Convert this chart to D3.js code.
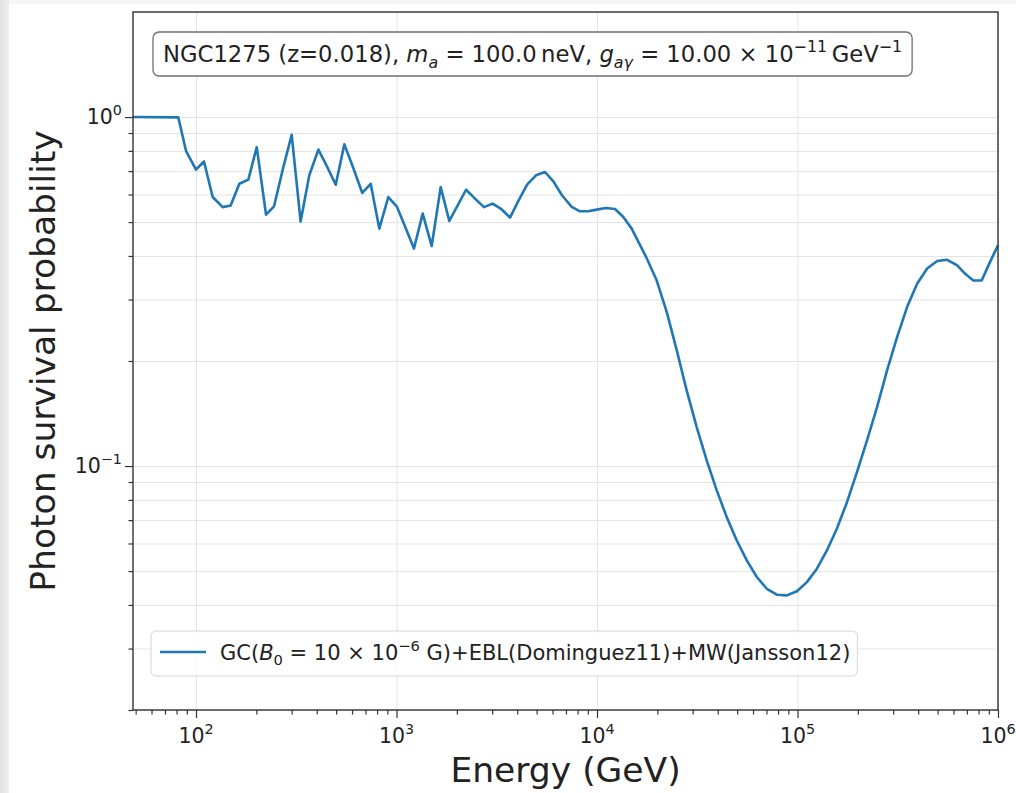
<!DOCTYPE html>
<html>
<head>
<meta charset="utf-8">
<script src="https://cdn.jsdelivr.net/npm/d3@7"></script>
<style>
  body { margin: 0; background: #ffffff; }
  svg { display: block; font-family: "DejaVu Sans", sans-serif; }
</style>
</head>
<body>
<svg id="chart" width="1016" height="793"></svg>
<script>
// Photon survival probability vs. energy (NGC1275, ALP + EBL + MW model)
const energyGeV = [
  48.5, 81.6, 89.2, 100, 109.6, 121.1, 135.9, 148.9, 164.5, 182.4,
  200.9, 223.5, 245, 271.7, 300, 332.5, 367.3, 407.6, 450, 497.5,
  549.3, 609.5, 675, 743.5, 820.8, 910, 1002, 1107, 1222, 1351,
  1498, 1661, 1834, 2019, 2222, 2463, 2730, 3017, 3320, 3682,
  4066, 4490, 4963, 5503, 6057, 6687, 7477, 8227, 9054, 9963,
  11087, 12297, 13526, 14893, 16253, 17698, 19860, 22280, 25000, 28000,
  31420, 35250, 39550, 44370, 49780, 55850, 62660, 70300, 78880, 88500,
  99300, 111400, 125000, 140200, 157300, 176500, 198000, 222200, 249300, 279700,
  313800, 352000, 395000, 443200, 497300, 557900, 626000, 684000, 753000, 829000,
  912000, 1000000
];
const survivalProb = [
  1.0, 0.998, 0.799, 0.707, 0.746, 0.590, 0.552, 0.558, 0.644, 0.662,
  0.820, 0.525, 0.555, 0.713, 0.890, 0.502, 0.681, 0.807, 0.722, 0.640,
  0.835, 0.713, 0.606, 0.644, 0.479, 0.590, 0.555, 0.483, 0.420, 0.529,
  0.427, 0.630, 0.504, 0.558, 0.619, 0.584, 0.552, 0.565, 0.546, 0.515,
  0.577, 0.641, 0.681, 0.696, 0.654, 0.597, 0.553, 0.537, 0.537, 0.543,
  0.549, 0.545, 0.517, 0.479, 0.434, 0.394, 0.340, 0.276, 0.2145, 0.1647,
  0.1293, 0.1038, 0.0852, 0.0714, 0.0612, 0.0537, 0.0481, 0.0445, 0.0428, 0.0426,
  0.0438, 0.0465, 0.0508, 0.0573, 0.0662, 0.0788, 0.0961, 0.1185, 0.1476, 0.188,
  0.234, 0.2855, 0.333, 0.368, 0.387, 0.390, 0.376, 0.356, 0.340, 0.340,
  0.384, 0.429
];

const xMajorExponents = [2, 3, 4, 5, 6];
const yMajorExponents = [-1, 0];
const xDomain = [48.5, 1e6];
const yDomain = [0.02, 2];

// Rich-text pieces: s = style ("n" normal, "i" italic, "sub", "isub", "sup")
const titlePieces = [
  { t: "NGC1275 (z=0.018), ", s: "n" },
  { t: "m", s: "i" }, { t: "a", s: "isub" },
  { t: " = 100.0\u2009neV, ", s: "n" },
  { t: "g", s: "i" }, { t: "a\u03b3", s: "isub" },
  { t: " = 10.00 \u00d7 10", s: "n" }, { t: "\u221211", s: "sup" },
  { t: "\u2009GeV", s: "n" }, { t: "\u22121", s: "sup" }
];
const legendPieces = [
  { t: "GC(", s: "n" }, { t: "B", s: "i" }, { t: "0", s: "sub" },
  { t: " = 10 \u00d7 10", s: "n" }, { t: "\u22126", s: "sup" },
  { t: " G)+EBL(Dominguez11)+MW(Jansson12)", s: "n" }
];
const xLabel = "Energy (GeV)";
const yLabel = "Photon survival probability";

const lineColor = "#1f77b4";
const plot = { left: 133, right: 998, top: 12, bottom: 710 };

const svg = d3.select("#chart");

// soft page edge
const defs = svg.append("defs");
const edge = defs.append("linearGradient").attr("id", "edgeFade").attr("x1", 0).attr("x2", 1);
edge.append("stop").attr("offset", "0%").attr("stop-color", "#e2e2e2");
edge.append("stop").attr("offset", "100%").attr("stop-color", "#efefef");
svg.append("rect").attr("x", 0).attr("y", 0).attr("width", 1016).attr("height", 793).attr("fill", "#ffffff");
svg.append("rect").attr("x", 0).attr("y", 0).attr("width", 9).attr("height", 793).attr("fill", "url(#edgeFade)");
svg.append("rect").attr("x", 9).attr("y", 0).attr("width", 1007).attr("height", 4).attr("fill", "#f6f6f6");

const x = d3.scaleLog().domain(xDomain).range([plot.left, plot.right]);
const y = d3.scaleLog().domain(yDomain).range([plot.bottom, plot.top]);

// tick values
const xMajor = xMajorExponents.map(e => Math.pow(10, e));
const xMinor = [];
for (let d = 1; d <= 5; d++) for (let k = 2; k <= 9; k++) {
  const v = k * Math.pow(10, d);
  if (v >= xDomain[0] && v <= xDomain[1]) xMinor.push(v);
}
const yMajor = yMajorExponents.map(e => Math.pow(10, e));
const yMinor = [];
for (let d = -2; d <= 0; d++) for (let k = 2; k <= 9; k++) {
  const v = k * Math.pow(10, d);
  if (v >= yDomain[0] * 0.999 && v <= yDomain[1] * 1.001) yMinor.push(+v.toPrecision(3));
}

const W = plot.right - plot.left, H = plot.bottom - plot.top;

// grid
const grid = svg.append("g").attr("class", "grid");
grid.append("g")
  .attr("transform", `translate(0,${plot.bottom})`)
  .call(d3.axisBottom(x).tickValues(xMajor).tickSize(-H).tickFormat(""))
  .call(g => g.select(".domain").remove())
  .call(g => g.selectAll("line").attr("stroke", "#e3e3e3").attr("stroke-width", 1));
grid.append("g")
  .attr("transform", `translate(${plot.left},0)`)
  .call(d3.axisLeft(y).tickValues(yMajor.concat(yMinor)).tickSize(-W).tickFormat(""))
  .call(g => g.select(".domain").remove())
  .call(g => g.selectAll("line").attr("stroke", "#e3e3e3").attr("stroke-width", 1));

// data line
const line = d3.line().x((d, i) => x(energyGeV[i])).y(d => y(d));
svg.append("path")
  .datum(survivalProb)
  .attr("d", line)
  .attr("fill", "none")
  .attr("stroke", lineColor)
  .attr("stroke-width", 2.6)
  .attr("stroke-linejoin", "round");

// axes ticks
const tickColor = "#333333";
const xAxisG = svg.append("g").attr("transform", `translate(0,${plot.bottom})`);
xAxisG.append("g").call(d3.axisBottom(x).tickValues(xMajor).tickSize(8).tickFormat(""));
xAxisG.append("g").call(d3.axisBottom(x).tickValues(xMinor).tickSize(4.5).tickFormat(""));
xAxisG.selectAll(".domain").remove();
xAxisG.selectAll("line").attr("stroke", tickColor).attr("stroke-width", 1.2);

const yAxisG = svg.append("g").attr("transform", `translate(${plot.left},0)`);
yAxisG.append("g").call(d3.axisLeft(y).tickValues(yMajor).tickSize(8).tickFormat(""));
yAxisG.append("g").call(d3.axisLeft(y).tickValues(yMinor.filter(v => v < 1.5)).tickSize(4.5).tickFormat(""));
yAxisG.selectAll(".domain").remove();
yAxisG.selectAll("line").attr("stroke", tickColor).attr("stroke-width", 1.2);

// spines
svg.append("rect")
  .attr("x", plot.left).attr("y", plot.top).attr("width", W).attr("height", H)
  .attr("fill", "none").attr("stroke", "#333333").attr("stroke-width", 1.4);

// tick labels with superscript exponents
const tickFont = 20.5;
xMajorExponents.forEach(e => {
  const t = svg.append("text")
    .attr("x", x(Math.pow(10, e))).attr("y", plot.bottom + 33)
    .attr("text-anchor", "middle").attr("font-size", tickFont).attr("fill", "#222");
  t.append("tspan").text("10");
  t.append("tspan").attr("dy", -9).attr("font-size", tickFont * 0.7).text(String(e).replace("-", "\u2212"));
});
yMajorExponents.forEach(e => {
  const t = svg.append("text")
    .attr("x", plot.left - 11).attr("y", y(Math.pow(10, e)) + 7)
    .attr("text-anchor", "end").attr("font-size", tickFont).attr("fill", "#222");
  t.append("tspan").text("10");
  t.append("tspan").attr("dy", -9).attr("font-size", tickFont * 0.7).text(String(e).replace("-", "\u2212"));
});

// axis labels
svg.append("text")
  .attr("x", (plot.left + plot.right) / 2).attr("y", 782)
  .attr("text-anchor", "middle").attr("font-size", 34.5).attr("fill", "#222")
  .text(xLabel);
svg.append("text")
  .attr("transform", `translate(55,${(plot.top + plot.bottom) / 2}) rotate(-90)`)
  .attr("text-anchor", "middle").attr("font-size", 34.5).attr("fill", "#222")
  .text(yLabel);

// rich text helper
function richText(sel, pieces, size) {
  let shift = 0;
  pieces.forEach(p => {
    const ts = sel.append("tspan").text(p.t);
    let target = 0, fs = size;
    if (p.s === "i") ts.attr("font-style", "italic");
    if (p.s === "sub" || p.s === "isub") { target = size * 0.25; fs = size * 0.7; }
    if (p.s === "isub") ts.attr("font-style", "italic");
    if (p.s === "sup") { target = -size * 0.42; fs = size * 0.7; }
    ts.attr("font-size", fs).attr("dy", target - shift);
    shift = target;
  });
}

// title box
const titleFont = 22.7;
const titleG = svg.append("g");
const titleBox = titleG.append("rect")
  .attr("rx", 6).attr("ry", 6)
  .attr("fill", "#ffffff").attr("stroke", "#707070").attr("stroke-width", 1.3);
const titleT = titleG.append("text").attr("x", 163).attr("y", 62).attr("fill", "#222").attr("font-size", titleFont);
richText(titleT, titlePieces, titleFont);
const tb = titleT.node().getBBox();
titleBox.attr("x", 153).attr("y", 32).attr("width", tb.x + tb.width + 10 - 153).attr("height", 44);

// legend
const legendFont = 21;
const legG = svg.append("g");
const legBox = legG.append("rect")
  .attr("rx", 5).attr("ry", 5)
  .attr("fill", "#ffffff").attr("fill-opacity", 0.85)
  .attr("stroke", "#d4d4d4").attr("stroke-width", 1);
legG.append("line")
  .attr("x1", 160).attr("x2", 206).attr("y1", 652).attr("y2", 652)
  .attr("stroke", lineColor).attr("stroke-width", 2.6);
const legT = legG.append("text").attr("x", 220).attr("y", 660).attr("fill", "#222").attr("font-size", legendFont);
richText(legT, legendPieces, legendFont);
const lb = legT.node().getBBox();
legBox.attr("x", 151).attr("y", 631).attr("width", lb.x + lb.width + 7 - 151).attr("height", 45);
</script>
</body>
</html>
